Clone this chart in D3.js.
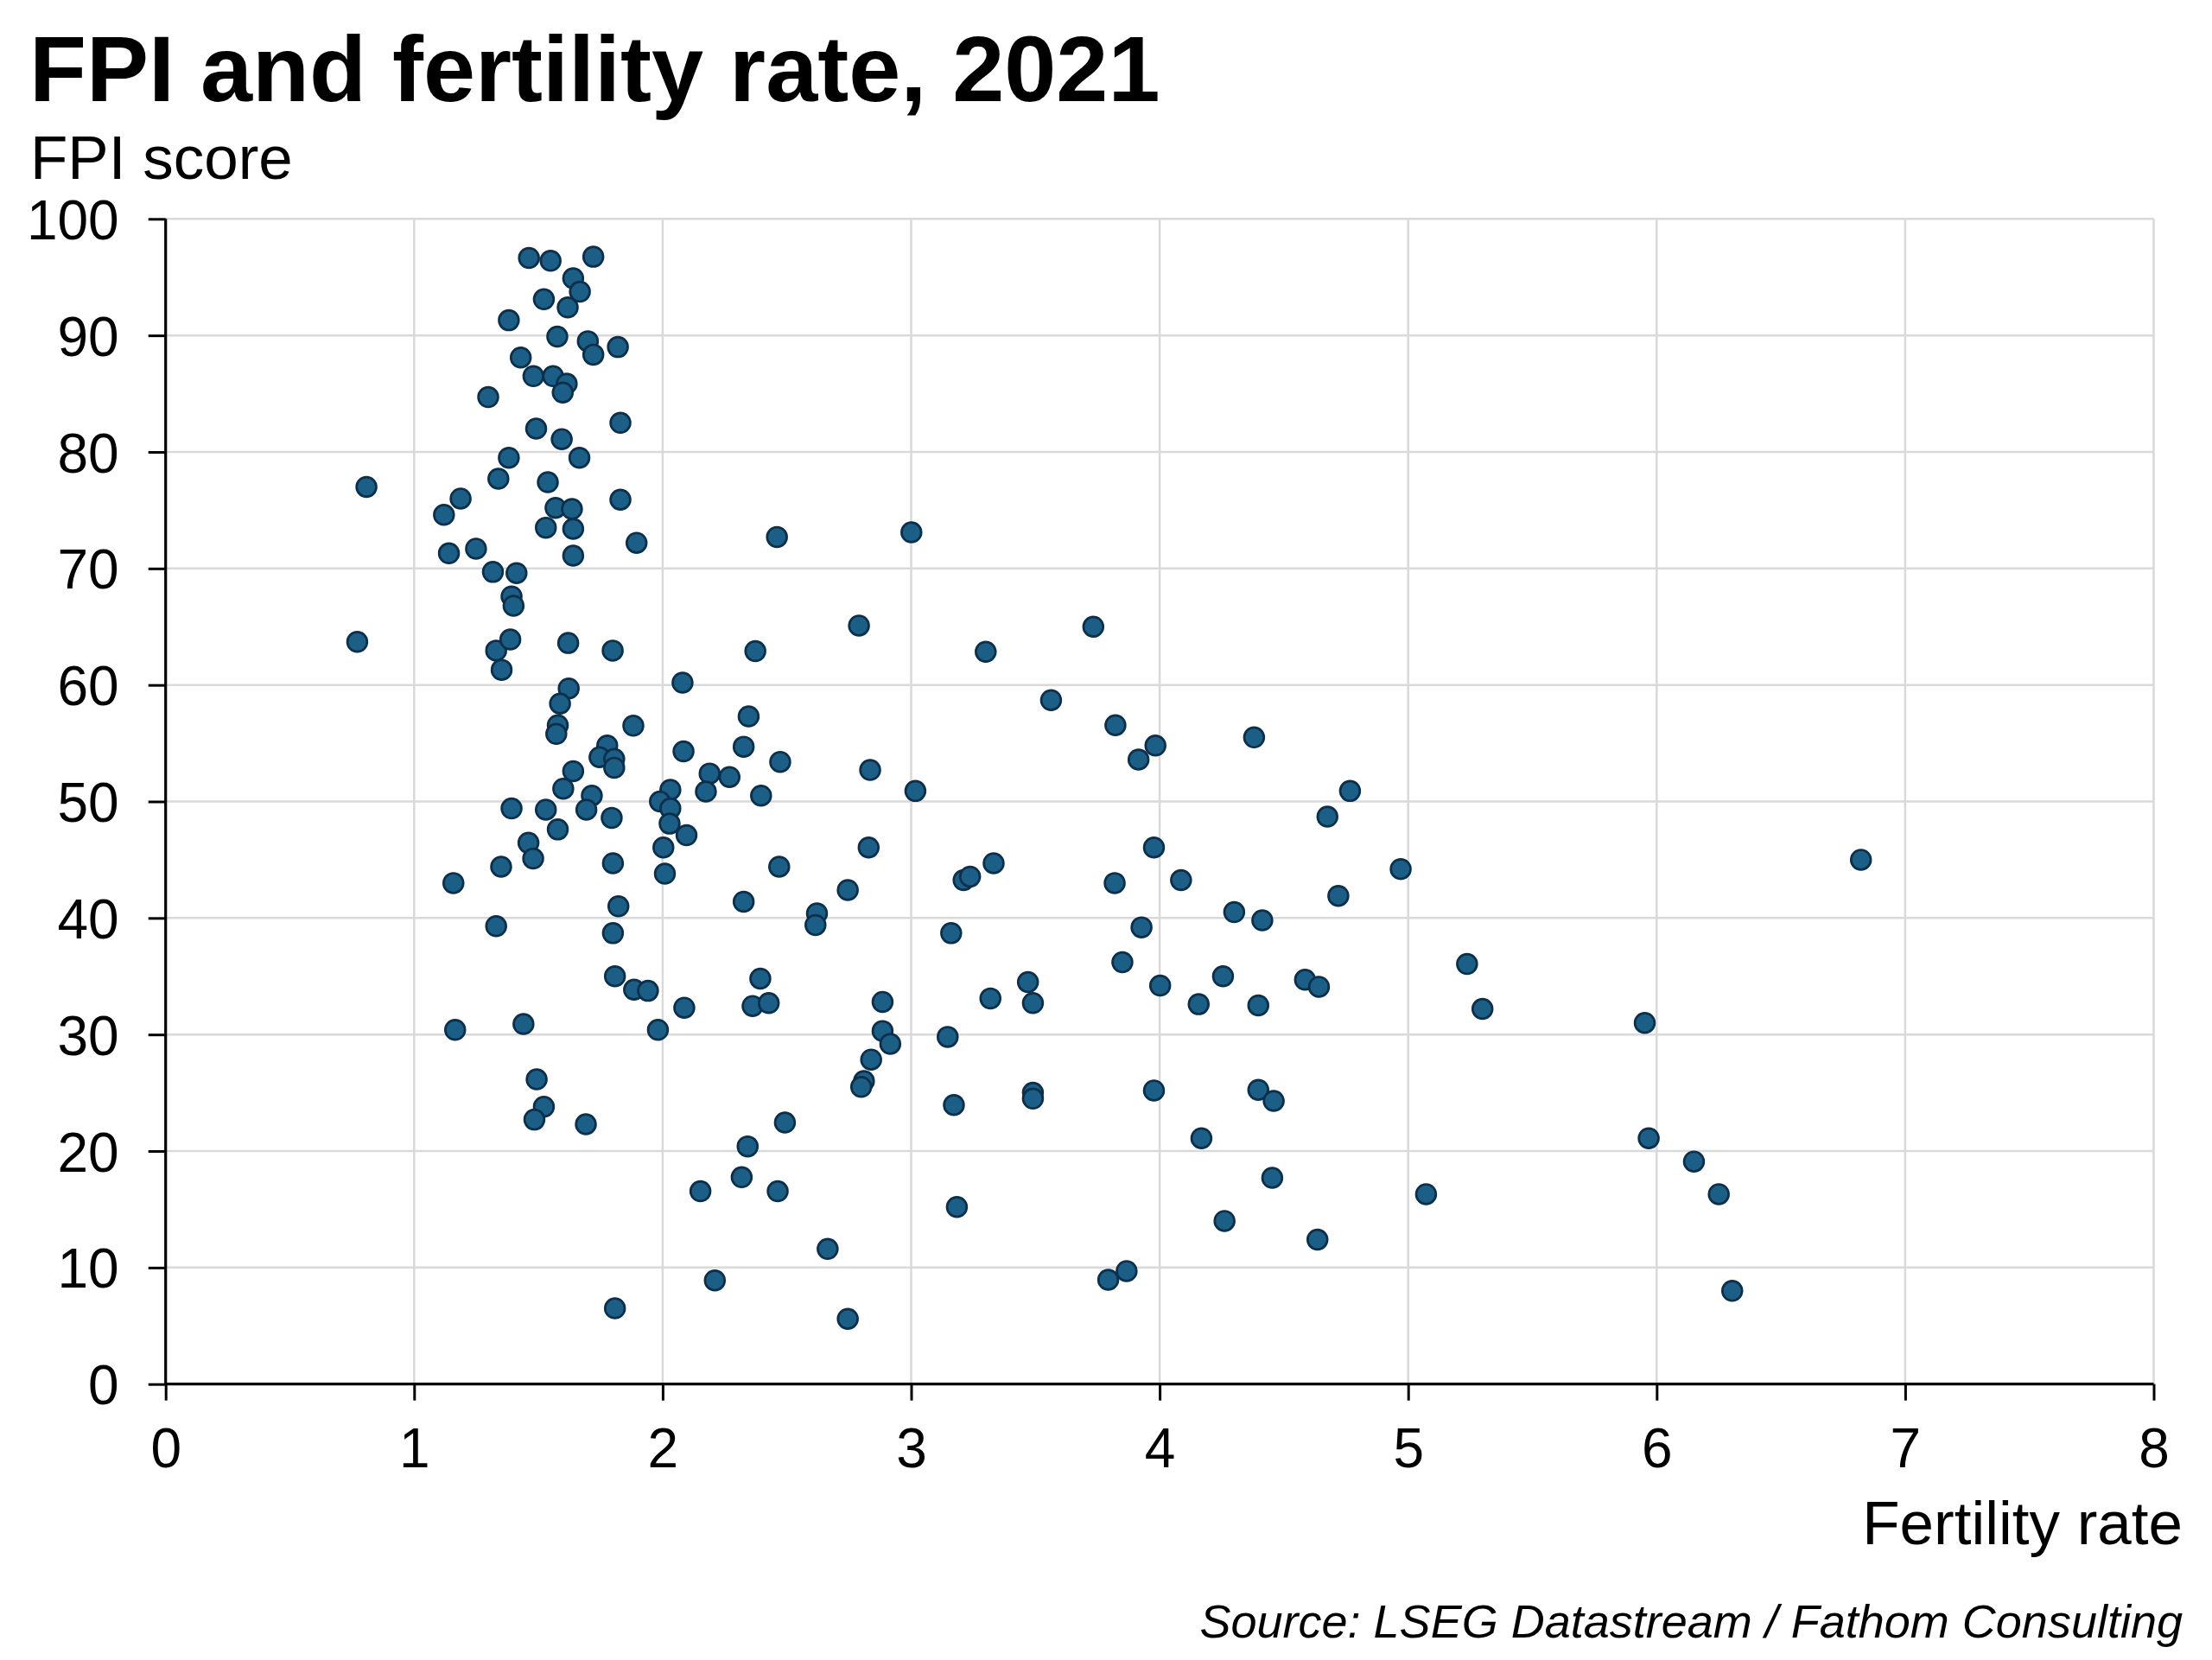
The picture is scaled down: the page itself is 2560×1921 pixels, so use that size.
<!DOCTYPE html>
<html>
<head>
<meta charset="utf-8">
<script src="https://cdn.jsdelivr.net/npm/d3@7"></script>
<style>
  html, body { margin: 0; padding: 0; background: #ffffff; }
  svg { display: block; font-family: "Liberation Sans", Arial, sans-serif; }
</style>
</head>
<body>
<svg id="chart" width="2560" height="1921"></svg>
<script>
// ---- Data ----
const title = "FPI and fertility rate, 2021";
const yAxisTitle = "FPI score";
const xAxisTitle = "Fertility rate";
const sourceText = "Source: LSEG Datastream / Fathom Consulting";

const xTicks = [0, 1, 2, 3, 4, 5, 6, 7, 8];
const yTicks = [0, 10, 20, 30, 40, 50, 60, 70, 80, 90, 100];

const fertility = [
  1.462, 1.549, 1.721, 1.640, 1.667, 1.522, 1.618, 1.381, 1.576, 1.699,
  1.721, 1.820, 1.429, 1.480, 1.559, 1.614, 1.598, 1.298, 1.830, 1.491,
  1.594, 1.381, 1.665, 1.339, 1.538, 0.808, 1.187, 1.830, 1.120, 1.569,
  1.635, 1.530, 1.640, 1.895, 1.140, 1.249, 1.640, 1.317, 1.412, 1.392,
  1.400,
  0.771, 1.330, 1.387, 1.352, 1.620, 1.799, 2.080, 1.622, 1.587, 1.578,
  1.572, 1.882, 2.084, 1.777, 1.746, 1.805, 1.805, 1.640, 1.600, 1.715,
  2.031, 1.989, 2.031, 1.392, 1.530, 1.693, 1.795, 2.028, 1.578, 2.096,
  1.460, 2.003, 1.479, 1.350, 1.800, 2.009, 1.158, 1.822, 1.330, 1.800,
  1.808, 1.885, 1.941, 2.087, 1.165, 1.440, 1.981,
  1.493, 1.522, 1.484, 1.691, 1.808,
  2.460, 3.001, 2.790, 3.733, 2.373, 3.300, 3.563, 2.346, 3.822, 3.983,
  3.915, 2.326, 2.473, 2.835, 2.189, 2.269, 2.174, 2.396, 3.017, 2.829,
  2.469, 2.745, 2.326, 3.332, 3.211, 3.237, 3.819, 3.977, 4.086,
  2.621, 2.615, 3.161, 3.927, 3.850, 4.002, 4.157, 3.470, 3.490, 3.319,
  3.147, 2.885, 2.885, 2.916, 2.839, 2.810, 2.799, 2.393, 2.362, 2.427,
  3.172, 3.490, 3.490, 3.977, 4.168, 2.492, 2.342, 2.318, 2.152, 2.463,
  3.184, 2.664, 2.210, 2.745, 3.793, 3.867,
  4.380, 4.766, 4.675, 4.970, 4.719, 4.300, 4.413, 4.255, 4.585, 4.641,
  4.397, 5.237, 5.299, 5.952, 6.822, 4.397, 4.459, 4.453, 4.261, 4.635,
  5.072, 5.968, 6.150, 6.250, 6.304
];

const fpi = [
  96.65, 96.4, 96.75, 94.9, 93.75, 93.1, 92.4, 91.3, 89.9, 89.5,
  88.35, 89.0, 88.1, 86.5, 86.5, 85.85, 85.1, 84.7, 82.5, 82.0,
  81.1, 79.5, 79.5, 77.7, 77.4, 77.0, 76.0, 75.9, 74.6, 75.2,
  75.1, 73.5, 73.4, 72.2, 71.3, 71.7, 71.1, 69.7, 69.6, 67.6,
  66.8,
  63.7, 62.95, 63.9, 61.3, 63.6, 62.95, 60.2, 59.7, 58.4, 56.55,
  55.8, 56.5, 54.3, 54.8, 53.8, 53.65, 52.9, 52.6, 51.1, 50.5,
  51.0, 50.0, 49.4, 49.4, 49.3, 49.3, 48.6, 48.1, 47.6, 47.1,
  46.45, 46.05, 45.1, 44.4, 44.7, 43.8, 43.0, 41.0, 39.3, 38.7,
  35.0, 33.85, 33.75, 32.3, 30.4, 30.9, 30.4,
  26.15, 23.8, 22.7, 22.3, 6.5,
  72.7, 73.1, 65.1, 65.0, 62.9, 62.85, 58.7, 57.3, 56.55, 54.8,
  53.6, 54.7, 53.4, 52.7, 52.4, 52.1, 50.85, 50.5, 50.9, 46.05,
  44.4, 42.4, 41.4, 44.7, 43.25, 43.55, 43.0, 46.05, 43.25,
  40.4, 39.4, 38.7, 39.2, 36.2, 34.2, 32.6, 34.5, 32.7, 33.1,
  29.8, 32.8, 30.3, 29.2, 27.85, 26.0, 25.5, 34.8, 32.45, 32.7,
  23.95, 25.0, 24.5, 25.2, 21.1, 22.45, 20.4, 17.75, 16.55, 16.55,
  15.2, 11.6, 8.9, 5.6, 8.95, 9.7,
  55.5, 50.9, 48.7, 44.2, 41.9, 40.5, 39.8, 35.0, 34.7, 34.1,
  32.5, 36.05, 32.2, 31.0, 45.0, 25.25, 24.3, 17.7, 14.0, 12.4,
  16.3, 21.1, 19.1, 16.3, 8.0
];

// ---- Layout ----
const svg = d3.select("#chart");
const plot = { left: 191.7, right: 2492.5, top: 253.3, bottom: 1601.7 };

const x = d3.scaleLinear().domain([0, 8]).range([plot.left, plot.right]);
const y = d3.scaleLinear().domain([0, 100]).range([plot.bottom, plot.top]);

const gridColor = "#d9d9d9";
const tickFont = 64;

// Gridlines
svg.append("g")
  .selectAll("line")
  .data(xTicks.filter(d => d > 0))
  .join("line")
  .attr("x1", d => x(d)).attr("x2", d => x(d))
  .attr("y1", plot.top).attr("y2", plot.bottom)
  .attr("stroke", gridColor).attr("stroke-width", 2.5);

svg.append("g")
  .selectAll("line")
  .data(yTicks.filter(d => d > 0))
  .join("line")
  .attr("x1", plot.left).attr("x2", plot.right)
  .attr("y1", d => y(d)).attr("y2", d => y(d))
  .attr("stroke", gridColor).attr("stroke-width", 2.5);

// Axes
const xAxis = d3.axisBottom(x).tickValues(xTicks).tickSize(19).tickFormat(d3.format("d"));
const yAxis = d3.axisLeft(y).tickValues(yTicks).tickSize(20).tickPadding(34).tickFormat(d3.format("d"));

const gx = svg.append("g").attr("transform", `translate(0,${plot.bottom})`).call(xAxis);
const gy = svg.append("g").attr("transform", `translate(${plot.left},0)`).call(yAxis);

[gx, gy].forEach(g => {
  g.select(".domain").attr("stroke", "#000").attr("stroke-width", 3.2);
  g.selectAll(".tick line").attr("stroke", "#000").attr("stroke-width", 3);
  g.selectAll(".tick text")
    .attr("fill", "#000")
    .style("font-family", '"Liberation Sans", Arial, sans-serif')
    .style("font-size", tickFont + "px");
});
gx.select(".domain").attr("d", `M${plot.left},0H${plot.right}`);
gy.select(".domain").attr("d", `M0,${plot.bottom}V${plot.top}`);
gx.selectAll(".tick text").attr("dy", "0").attr("y", 96);
gy.selectAll(".tick text").attr("dy", "0.36em");

// Points
const pts = fertility.map((f, i) => ({ f, v: fpi[i] }));
svg.append("g")
  .selectAll("circle")
  .data(pts)
  .join("circle")
  .attr("cx", d => x(d.f))
  .attr("cy", d => y(d.v))
  .attr("r", 11.4)
  .attr("fill", "#1c5f86")
  .attr("stroke", "#0c2f4b")
  .attr("stroke-width", 2.7);

// Titles
svg.append("text")
  .attr("x", 34).attr("y", 117)
  .style("font-size", "108px").style("font-weight", "bold")
  .attr("fill", "#000")
  .text(title);

svg.append("text")
  .attr("x", 35).attr("y", 207)
  .style("font-size", "71px")
  .attr("fill", "#000")
  .text(yAxisTitle);

svg.append("text")
  .attr("x", 2526).attr("y", 1787)
  .attr("text-anchor", "end")
  .style("font-size", "71px")
  .attr("fill", "#000")
  .text(xAxisTitle);

svg.append("text")
  .attr("x", 2526).attr("y", 1895)
  .attr("text-anchor", "end")
  .style("font-size", "54px").style("font-style", "italic")
  .attr("fill", "#000")
  .text(sourceText);
</script>
</body>
</html>
